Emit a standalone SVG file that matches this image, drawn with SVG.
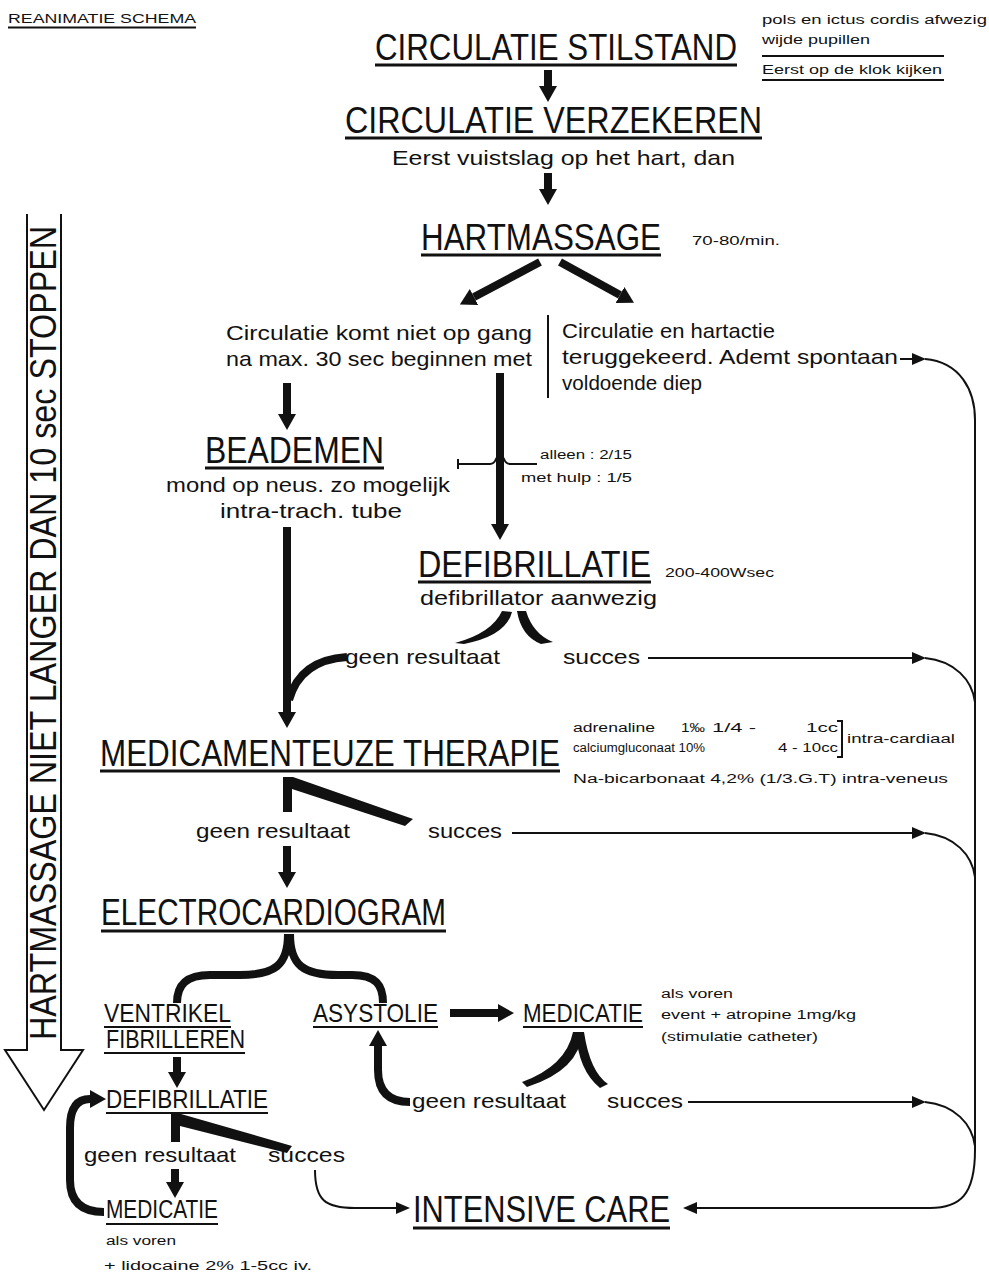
<svg xmlns="http://www.w3.org/2000/svg" width="989" height="1273" viewBox="0 0 989 1273">
  <defs>
    <style>
      text { font-family: "Liberation Sans", Arial, sans-serif; fill: #111; }
      .h { font-size: 37px; }
      .c { font-size: 25px; }
      .m { font-size: 21px; }
      .s { font-size: 12px; }
      .ul { stroke: #111; stroke-width: 3; fill: none; }
      .uls { stroke: #111; stroke-width: 2; fill: none; }
      .thin { stroke: #111; stroke-width: 2; fill: none; }
      .thick { stroke: #111; stroke-width: 8; fill: none; }
      .wedge { fill: #111; stroke: none; }
    </style>
    <marker id="hd" viewBox="0 -9 16 18" refX="0" refY="0" markerWidth="16" markerHeight="18" markerUnits="userSpaceOnUse" orient="auto">
      <path d="M0,-9 L16,0 L0,9 Z" fill="#111"/>
    </marker>
    <marker id="tp" viewBox="0 -6 14 12" refX="0" refY="0" markerWidth="14" markerHeight="12" markerUnits="userSpaceOnUse" orient="auto">
      <path d="M0,-6 L14,0 L0,6 Z" fill="#111"/>
    </marker>
  </defs>
  <rect width="989" height="1273" fill="#ffffff"/>

  <!-- heading and side notes -->
  <g id="title">
    <text class="s" x="8" y="23" font-size="13" textLength="188" lengthAdjust="spacingAndGlyphs">REANIMATIE SCHEMA</text>
    <line class="uls" x1="8" y1="27.5" x2="196" y2="27.5" stroke-width="1.5"/>
  </g>
  <g id="notes">
    <text class="s" x="762" y="24" textLength="225" lengthAdjust="spacingAndGlyphs">pols en ictus cordis afwezig</text>
    <text class="s" x="762" y="44" textLength="108" lengthAdjust="spacingAndGlyphs">wijde pupillen</text>
    <line class="uls" x1="762" y1="56" x2="944" y2="56" stroke-width="1.5"/>
    <text class="s" x="762" y="74" textLength="180" lengthAdjust="spacingAndGlyphs">Eerst op de klok kijken</text>
    <line class="uls" x1="762" y1="80" x2="944" y2="80" stroke-width="1.5"/>
  </g>

  <!-- side warning arrow -->
  <g id="side-arrow">
    <path d="M27,214 L27,1050 L5,1050 L44,1110 L83,1050 L61,1050 L61,214" fill="none" stroke="#111" stroke-width="2"/>
    <text class="h" transform="translate(56,1040) rotate(-90)" x="0" y="0" font-size="35" textLength="814" lengthAdjust="spacingAndGlyphs">HARTMASSAGE NIET LANGER DAN 10 sec STOPPEN</text>
  </g>

  <g id="stilstand">
    <text class="h" x="375" y="60" textLength="362" lengthAdjust="spacingAndGlyphs">CIRCULATIE STILSTAND</text>
    <line class="ul" x1="375" y1="65" x2="737" y2="65"/>
  </g>
  <g id="verzekeren">
    <text class="h" x="345" y="133" textLength="417" lengthAdjust="spacingAndGlyphs">CIRCULATIE VERZEKEREN</text>
    <line class="ul" x1="345" y1="138" x2="762" y2="138"/>
    <text class="m" x="392" y="165" textLength="343" lengthAdjust="spacingAndGlyphs">Eerst vuistslag op het hart, dan</text>
  </g>
  <g id="hartmassage">
    <text class="h" x="421" y="250" textLength="240" lengthAdjust="spacingAndGlyphs">HARTMASSAGE</text>
    <line class="ul" x1="421" y1="255" x2="661" y2="255"/>
    <text class="s" x="692" y="245" textLength="88" lengthAdjust="spacingAndGlyphs">70-80/min.</text>
  </g>
  <g id="niet-op-gang">
    <text class="m" x="226" y="340" textLength="306" lengthAdjust="spacingAndGlyphs">Circulatie komt niet op gang</text>
    <text class="m" x="226" y="366" textLength="306" lengthAdjust="spacingAndGlyphs">na max. 30 sec beginnen met</text>
  </g>
  <g id="teruggekeerd">
    <line class="thin" x1="548" y1="315" x2="548" y2="398"/>
    <text class="m" x="562" y="338" textLength="213" lengthAdjust="spacingAndGlyphs">Circulatie en hartactie</text>
    <text class="m" x="562" y="364" textLength="336" lengthAdjust="spacingAndGlyphs">teruggekeerd. Ademt spontaan</text>
    <text class="m" x="562" y="390" textLength="140" lengthAdjust="spacingAndGlyphs">voldoende diep</text>
  </g>
  <g id="beademen">
    <text class="h" x="205" y="463" textLength="179" lengthAdjust="spacingAndGlyphs">BEADEMEN</text>
    <line class="ul" x1="205" y1="468" x2="384" y2="468"/>
    <text class="m" x="166" y="492" textLength="284" lengthAdjust="spacingAndGlyphs">mond op neus. zo mogelijk</text>
    <text class="m" x="220" y="518" textLength="182" lengthAdjust="spacingAndGlyphs">intra-trach. tube</text>
  </g>
  <g id="ratio">
    <text class="s" x="540" y="459" textLength="92" lengthAdjust="spacingAndGlyphs">alleen : 2/15</text>
    <text class="s" x="521" y="482" textLength="111" lengthAdjust="spacingAndGlyphs">met hulp : 1/5</text>
  </g>
  <g id="defibrillatie">
    <text class="h" x="418" y="577" textLength="233" lengthAdjust="spacingAndGlyphs">DEFIBRILLATIE</text>
    <line class="ul" x1="418" y1="582" x2="651" y2="582"/>
    <text class="s" x="665" y="577" textLength="109" lengthAdjust="spacingAndGlyphs">200-400Wsec</text>
    <text class="m" x="420" y="605" textLength="237" lengthAdjust="spacingAndGlyphs">defibrillator aanwezig</text>
    <text class="m" x="345" y="664" textLength="155" lengthAdjust="spacingAndGlyphs">geen resultaat</text>
    <text class="m" x="563" y="664" textLength="77" lengthAdjust="spacingAndGlyphs">succes</text>
  </g>
  <g id="medicamenteuze">
    <text class="h" x="100" y="766" textLength="460" lengthAdjust="spacingAndGlyphs">MEDICAMENTEUZE THERAPIE</text>
    <line class="ul" x1="100" y1="771" x2="560" y2="771"/>
    <text class="s" x="573" y="732" textLength="82" lengthAdjust="spacingAndGlyphs">adrenaline</text>
    <text class="s" x="681" y="732" textLength="24" lengthAdjust="spacingAndGlyphs">1‰</text>
    <text class="s" x="712" y="732" textLength="44" lengthAdjust="spacingAndGlyphs">1/4 -</text>
    <text class="s" x="806" y="732" textLength="32" lengthAdjust="spacingAndGlyphs">1cc</text>
    <text class="s" x="573" y="752" textLength="132" lengthAdjust="spacingAndGlyphs">calciumgluconaat 10%</text>
    <text class="s" x="778" y="752" textLength="60" lengthAdjust="spacingAndGlyphs">4 - 10cc</text>
    <path class="thin" d="M837,721 L842,721 L842,757 L837,757" stroke-width="1.5"/>
    <text class="s" x="847" y="743" textLength="108" lengthAdjust="spacingAndGlyphs">intra-cardiaal</text>
    <text class="s" x="573" y="783" textLength="375" lengthAdjust="spacingAndGlyphs">Na-bicarbonaat  4,2%  (1/3.G.T)  intra-veneus</text>
    <text class="m" x="196" y="838" textLength="154" lengthAdjust="spacingAndGlyphs">geen resultaat</text>
    <text class="m" x="428" y="838" textLength="74" lengthAdjust="spacingAndGlyphs">succes</text>
  </g>
  <g id="ecg">
    <text class="h" x="101" y="925" textLength="345" lengthAdjust="spacingAndGlyphs">ELECTROCARDIOGRAM</text>
    <line class="ul" x1="101" y1="931" x2="446" y2="931"/>
  </g>
  <g id="ventrikel">
    <text class="c" x="104" y="1022" textLength="127" lengthAdjust="spacingAndGlyphs">VENTRIKEL</text>
    <line class="uls" x1="104" y1="1027" x2="231" y2="1027"/>
    <text class="c" x="106" y="1048" textLength="139" lengthAdjust="spacingAndGlyphs">FIBRILLEREN</text>
    <line class="uls" x1="104" y1="1053" x2="245" y2="1053"/>
  </g>
  <g id="asystolie">
    <text class="c" x="313" y="1022" textLength="125" lengthAdjust="spacingAndGlyphs">ASYSTOLIE</text>
    <line class="uls" x1="313" y1="1027" x2="438" y2="1027"/>
  </g>
  <g id="medicatie-a">
    <text class="c" x="523" y="1022" textLength="120" lengthAdjust="spacingAndGlyphs">MEDICATIE</text>
    <line class="uls" x1="523" y1="1027" x2="643" y2="1027"/>
    <text class="s" x="661" y="998" textLength="72" lengthAdjust="spacingAndGlyphs">als voren</text>
    <text class="s" x="661" y="1019" textLength="195" lengthAdjust="spacingAndGlyphs">event + atropine  1mg/kg</text>
    <text class="s" x="661" y="1041" textLength="157" lengthAdjust="spacingAndGlyphs">(stimulatie catheter)</text>
    <text class="m" x="412" y="1108" textLength="154" lengthAdjust="spacingAndGlyphs">geen resultaat</text>
    <text class="m" x="607" y="1108" textLength="76" lengthAdjust="spacingAndGlyphs">succes</text>
  </g>
  <g id="defibrillatie-b">
    <text class="c" x="106" y="1108" textLength="162" lengthAdjust="spacingAndGlyphs">DEFIBRILLATIE</text>
    <line class="uls" x1="106" y1="1113" x2="268" y2="1113"/>
    <text class="m" x="84" y="1162" textLength="152" lengthAdjust="spacingAndGlyphs">geen resultaat</text>
    <text class="m" x="268" y="1162" textLength="77" lengthAdjust="spacingAndGlyphs">succes</text>
  </g>
  <g id="medicatie-b">
    <text class="c" x="106" y="1218" textLength="112" lengthAdjust="spacingAndGlyphs">MEDICATIE</text>
    <line class="uls" x1="106" y1="1224" x2="218" y2="1224"/>
    <text class="s" x="106" y="1245" textLength="70" lengthAdjust="spacingAndGlyphs">als voren</text>
    <text class="s" x="104" y="1270" textLength="208" lengthAdjust="spacingAndGlyphs">+ lidocaine  2%  1-5cc  iv.</text>
  </g>
  <g id="intensive-care">
    <text class="h" x="413" y="1222" textLength="257" lengthAdjust="spacingAndGlyphs">INTENSIVE CARE</text>
    <line class="ul" x1="413" y1="1228" x2="670" y2="1228"/>
  </g>

  <g id="connectors">
    <!-- main column -->
    <line class="thick" x1="548" y1="70" x2="548" y2="86" marker-end="url(#hd)"/>
    <line class="thick" x1="548" y1="173" x2="548" y2="189" marker-end="url(#hd)"/>
    <line class="thick" x1="540" y1="262" x2="474" y2="297" marker-end="url(#hd)"/>
    <line class="thick" x1="560" y1="262" x2="620" y2="295" marker-end="url(#hd)"/>
    <line class="thick" x1="287" y1="383" x2="287" y2="414" marker-end="url(#hd)"/>
    <line class="thick" x1="500" y1="373" x2="500" y2="524" marker-end="url(#hd)"/>
    <!-- ratio line hopping over the defibrillation path -->
    <path class="thin" d="M458,464 L490,464 Q494,464 496,459 Q500,452 504,459 Q506,464 510,464 L537,464" stroke-width="1.5"/>
    <line class="thin" x1="458" y1="459" x2="458" y2="469" stroke-width="1.5"/>
    <!-- beademen down to medication -->
    <line class="thick" x1="287" y1="527" x2="287" y2="712" marker-end="url(#hd)"/>
    <path class="thick" d="M347,657 Q300,660 289,700"/>
    <!-- defibrillation split -->
    <path class="wedge" d="M502,611 L512,612 Q506,636 464,644 L455,643 Q492,633 502,611 Z"/>
    <path class="wedge" d="M517,611 L526,611 Q533,634 553,642 L541,644 Q521,636 517,611 Z"/>
    <!-- medication split -->
    <path class="wedge" d="M283,777 L293,777 L413,819 L405,826 L292,789 L292,812 L283,812 Z"/>
    <line class="thick" x1="287" y1="846" x2="287" y2="872" marker-end="url(#hd)"/>
    <!-- ecg brace -->
    <path class="thick" d="M288,934 C288,965 275,975 240,975 L210,975 C186,975 177,985 177,1003"/>
    <path class="thick" d="M290,934 C290,965 303,975 338,975 L352,975 C376,975 383,985 383,1003"/>
    <!-- asystolie -->
    <line class="thick" x1="450" y1="1013" x2="498" y2="1013" marker-end="url(#hd)"/>
    <path class="wedge" d="M573,1032 L582,1032 Q580,1070 527,1087 L522,1082 Q566,1066 573,1032 Z"/>
    <path class="wedge" d="M576,1032 L584,1032 Q590,1072 608,1084 L600,1088 Q578,1070 576,1032 Z"/>
    <path class="thick" d="M410,1102 Q378,1102 378,1070 L378,1046" marker-end="url(#hd)"/>
    <!-- ventrikel fibrilleren -->
    <line class="thick" x1="177" y1="1057" x2="177" y2="1072" marker-end="url(#hd)"/>
    <path class="wedge" d="M171,1114 L181,1114 L292,1146 L287,1153 L180,1126 L180,1142 L171,1142 Z"/>
    <line class="thick" x1="175" y1="1169" x2="175" y2="1182" marker-end="url(#hd)"/>
    <path class="thick" d="M104,1212 Q70,1212 70,1180 L70,1128 Q70,1099 90,1099" marker-end="url(#hd)"/>
    <path class="thin" d="M315,1170 C315,1200 325,1208 355,1208 L396,1208" marker-end="url(#tp)"/>
    <!-- return paths on the right -->
    <line class="thin" x1="900" y1="359" x2="912" y2="359" marker-end="url(#tp)"/>
    <line class="thin" x1="648" y1="658" x2="912" y2="658" marker-end="url(#tp)"/>
    <line class="thin" x1="512" y1="833" x2="912" y2="833" marker-end="url(#tp)"/>
    <line class="thin" x1="688" y1="1102" x2="912" y2="1102" marker-end="url(#tp)"/>
    <path class="thin" d="M925,359 C960,362 975,390 975,420 L975,1150 C975,1195 960,1208 930,1208 L697,1208" marker-end="url(#tp)"/>
    <path class="thin" d="M925,658 C955,661 972,680 975,702"/>
    <path class="thin" d="M925,833 C955,836 972,855 975,877"/>
    <path class="thin" d="M925,1102 C955,1105 972,1124 975,1146"/>
  </g>
</svg>
